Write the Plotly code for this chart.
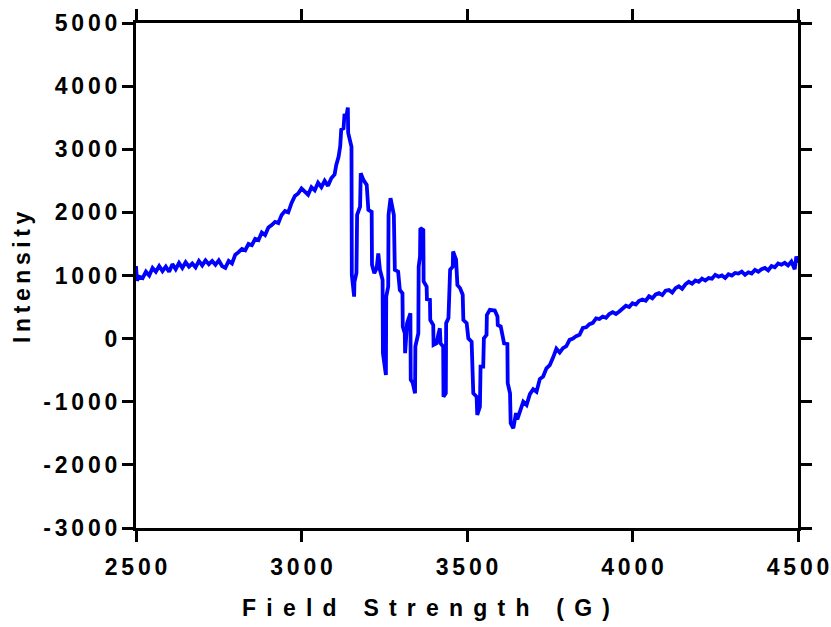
import plotly.graph_objects as go

# Field strength (G) and intensity values
field = [
    2500, 2503, 2510, 2520, 2530, 2540, 2550, 2560, 2570, 2580, 2590, 2600, 2610, 2620, 2630,
    2640, 2650, 2660, 2670, 2680, 2690, 2700, 2710, 2720, 2730, 2740, 2750, 2760, 2770, 2780,
    2790, 2800, 2810, 2820, 2830, 2840, 2850, 2860, 2870, 2880, 2890, 2900, 2910, 2920, 2930,
    2940, 2950, 2960, 2970, 2980, 2990, 3000, 3010, 3020, 3030, 3040, 3050, 3060, 3070, 3080,
    3090, 3100, 3105, 3112, 3117, 3120, 3127, 3130, 3135, 3140, 3141, 3151, 3152, 3159, 3160,
    3166, 3168, 3177, 3179, 3187, 3197, 3202, 3212, 3213, 3220, 3227, 3232, 3237, 3245, 3246,
    3255, 3256, 3262, 3263, 3269, 3279, 3282, 3292, 3297, 3305, 3306, 3312, 3313, 3319, 3329,
    3330, 3336, 3343, 3344, 3353, 3354, 3358, 3359, 3368, 3369, 3378, 3379, 3388, 3389, 3398,
    3399, 3408, 3413, 3418, 3420, 3428, 3429, 3436, 3437, 3444, 3449, 3457, 3458, 3467, 3471,
    3479, 3487, 3489, 3499, 3504, 3514, 3519, 3529, 3531, 3539, 3541, 3549, 3551, 3559, 3560,
    3569, 3584, 3592, 3593, 3602, 3605, 3612, 3622, 3623, 3630, 3632, 3640, 3648, 3652, 3660,
    3665, 3670, 3680, 3690, 3700, 3710, 3720, 3730, 3740, 3750, 3760, 3770, 3780, 3790, 3800,
    3810, 3820, 3830, 3840, 3850, 3860, 3870, 3880, 3890, 3900, 3910, 3920, 3930, 3940, 3950,
    3960, 3970, 3980, 3990, 4000, 4010, 4020, 4030, 4040, 4050, 4060, 4070, 4080, 4090, 4100,
    4110, 4120, 4130, 4140, 4150, 4160, 4170, 4180, 4190, 4200, 4210, 4220, 4230, 4240, 4250,
    4260, 4270, 4280, 4290, 4300, 4310, 4320, 4330, 4340, 4350, 4360, 4370, 4380, 4390, 4400,
    4410, 4420, 4430, 4440, 4450, 4460, 4470, 4480, 4490, 4495, 4500,
]
intensity = [
    1150, 920, 980, 960, 1060, 1000, 1120, 1060, 1150, 1070, 1140, 1060, 1180, 1100, 1200,
    1120, 1210, 1140, 1190, 1130, 1230, 1160, 1240, 1180, 1230, 1170, 1240, 1150, 1120, 1230,
    1190, 1330, 1370, 1420, 1400, 1500, 1480, 1580, 1560, 1680, 1640, 1760, 1800, 1850, 1830,
    1960, 2020, 2000, 2150, 2260, 2300, 2380, 2330, 2280, 2400, 2350, 2470, 2400, 2500, 2420,
    2540, 2600, 2750, 2880, 3050, 3310, 3330, 3560, 3500, 3660, 3260, 3040, 1010, 665, 900,
    1040, 1960, 2090, 2620, 2515, 2435, 2040, 2010, 1170, 1035, 1115, 1350, 1090, 930, -230,
    -575, 665, 825, 1960, 2225, 1960, 1090, 1060, 770, 720, 190, 85, -230, 245, 400,
    -650, -700, -865, -125, 85, 1140, 1300, 1750, 1720, 905, 825, 625, 615, 295, 215,
    -100, -75, 60, 165, -75, -125, -920, -865, 245, 325, 1090, 1140, 1380, 1250, 850,
    800, 695, 295, 245, 5, -50, -865, -920, -1210, -1080, -445, -445, 5, 60, 375,
    455, 445, 350, 215, 190, 85, -75, -85, -705, -865, -1340, -1420, -1180, -1280, -1155,
    -1100, -1000, -1050, -880, -800, -840, -640, -600, -470, -420, -300, -160, -220, -150, -120,
    -20, 0, 40, 60, 170, 180, 230, 250, 320, 310, 350, 330, 390, 420, 390,
    430, 480, 520, 500, 560, 540, 600, 620, 600, 670, 640, 700, 720, 690, 760,
    770, 730, 800, 830, 790, 860, 900, 870, 920, 900, 950, 920, 960, 950, 1010,
    980, 1000, 960, 1020, 1000, 1040, 1030, 1060, 1010, 1050, 1030, 1090, 1060, 1100, 1120,
    1080, 1150, 1130, 1190, 1170, 1200, 1160, 1220, 1100, 1300, 1200,
]

x_ticks = [2500, 3000, 3500, 4000, 4500]
y_ticks = [-3000, -2000, -1000, 0, 1000, 2000, 3000, 4000, 5000]
x_title = "Field Strength (G)"
y_title = "Intensity"

THIN = "\u2009"
SIXTH = "\u2006"
NBSP = "\u00a0"


def spaced(s, sep):
    return sep.join(ch if ch != " " else NBSP for ch in s)


FONT = "Liberation Sans, Arial, sans-serif"
TICKFONT = dict(family=FONT, size=23, color="black", weight="bold")
TITLEFONT = dict(family=FONT, size=23, color="black", weight="bold")

fig = go.Figure()
fig.add_trace(go.Scatter(
    x=field, y=intensity, mode="lines",
    line=dict(color="#0000FF", width=3.8),
    showlegend=False,
))

axis_common = dict(
    showline=True, linecolor="black", linewidth=3,
    mirror="ticks", ticks="outside", ticklen=11, tickwidth=3, tickcolor="black",
    showgrid=False, zeroline=False, automargin=False,
    tickfont=TICKFONT,
)

fig.update_xaxes(
    range=[2500, 4500], tickvals=x_ticks,
    ticktext=[spaced(str(v), SIXTH) for v in x_ticks],
    ticklabelstandoff=5,
    **axis_common,
)
fig.update_yaxes(
    range=[-3000, 5000], tickvals=y_ticks,
    ticktext=[spaced(str(v), SIXTH) for v in y_ticks],
    **axis_common,
)

fig.add_annotation(
    text=spaced(x_title, NBSP + SIXTH), xref="paper", yref="paper",
    x=(426 - 136) / 662, y=(528 - 608) / 505, xanchor="center", yanchor="middle",
    showarrow=False, font=TITLEFONT,
)
fig.add_annotation(
    text=spaced(y_title, THIN), xref="paper", yref="paper",
    x=(22 - 136) / 662, y=(528 - 277) / 505, xanchor="center", yanchor="middle",
    textangle=-90, showarrow=False, font=TITLEFONT,
)

fig.update_layout(
    width=831, height=627,
    margin=dict(l=136, r=33, t=23, b=99),
    plot_bgcolor="white", paper_bgcolor="white",
)

fig.write_html("out.html")
